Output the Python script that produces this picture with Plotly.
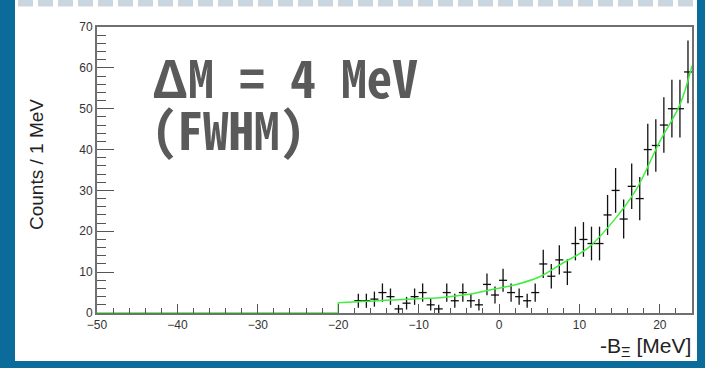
import numpy as np
import plotly.graph_objects as go

# Binned spectrum: bin centres (1 MeV bins) and counts
bin_centers = [-17.5, -16.5, -15.5, -14.5, -13.5, -12.5, -11.5, -10.5, -9.5, -8.5,
               -7.5, -6.5, -5.5, -4.5, -3.5, -2.5, -1.5, -0.5, 0.5, 1.5,
               2.5, 3.5, 4.5, 5.5, 6.5, 7.5, 8.5, 9.5, 10.5, 11.5,
               12.5, 13.5, 14.5, 15.5, 16.5, 17.5, 18.5, 19.5, 20.5, 21.5,
               22.5, 23.5]
counts = [3, 3, 3.4, 5, 4, 1, 2.4, 4, 5, 2,
          1, 5, 3, 5, 3, 2, 7, 4.4, 8, 5,
          4, 3, 5, 12, 9, 13, 10, 17, 18, 17,
          17, 24, 30, 23, 31, 28, 40, 41, 46, 50,
          50, 59]

# Fitted spectrum shape (knots of the fit curve)
fit_x = [-20, -17, -14, -10, -7, -4, -1, 2, 5, 8, 11, 14, 17, 20, 22.5, 24]
fit_y = [2.5, 2.8, 3.1, 3.5, 3.8, 4.5, 5.7, 6.9, 8.8, 12.3, 15.8, 22, 30, 42, 51, 60.5]
threshold_x = [-50, -20, -20]
threshold_y = [0, 0, 2.5]

x_ticks = [-50, -40, -30, -20, -10, 0, 10, 20]
y_ticks = [0, 10, 20, 30, 40, 50, 60, 70]

W_FIG, H_FIG = 705, 368
L, R, T, B = 97, 13, 27, 55
PW, PH = W_FIG - L - R, H_FIG - T - B


def fx(p):
    return (p - L) / PW


def fy(p):
    return (T + PH - p) / PH


errors = np.sqrt(np.array(counts, dtype=float))

fig = go.Figure()

fig.add_trace(go.Scatter(
    x=bin_centers, y=counts, mode="markers",
    marker=dict(size=1, color="black"),
    error_x=dict(type="constant", value=0.5, width=0, thickness=1.3, color="#111"),
    error_y=dict(type="data", array=errors, width=0, thickness=1.3, color="#111"),
    showlegend=False, hoverinfo="skip",
))

green = "#3ff03f"
fig.add_trace(go.Scatter(
    x=threshold_x, y=threshold_y, mode="lines",
    line=dict(color=green, width=1.5), showlegend=False, hoverinfo="skip",
))
fig.add_trace(go.Scatter(
    x=fit_x, y=fit_y, mode="lines",
    line=dict(color=green, width=1.5, shape="spline"), showlegend=False, hoverinfo="skip",
))

tick_font = dict(family="Liberation Sans, Arial, sans-serif", size=12, color="#333")
axis_common = dict(
    showgrid=False, zeroline=False, showline=True, mirror=True,
    linecolor="#707070", linewidth=2, ticks="inside", tickcolor="#555",
    tickwidth=1, tickfont=tick_font,
)
fig.update_xaxes(
    range=[-50, 24], tickvals=x_ticks, ticklen=9,
    minor=dict(dtick=2, ticklen=5, ticks="inside", tickcolor="#555", tickwidth=1),
    **axis_common,
)
fig.update_yaxes(
    range=[0, 70], tickvals=y_ticks, ticklen=17,
    minor=dict(dtick=2, ticklen=9, ticks="inside", tickcolor="#555", tickwidth=1),
    **axis_common,
)

# white slide panel on the blue frame, with a soft dashed strip along its top
fig.add_shape(type="rect", xref="paper", yref="paper",
              x0=fx(15), x1=fx(697), y0=fy(361), y1=fy(-5),
              fillcolor="white", line=dict(width=0), layer="below")
fig.add_shape(type="line", xref="paper", yref="paper",
              x0=fx(18), x1=fx(697), y0=fy(3), y1=fy(3),
              line=dict(color="#c9d6df", width=7, dash="15px,5px"), layer="below")

fig.add_annotation(text="Counts / 1 MeV", xref="paper", yref="paper",
                   x=fx(36), y=fy(165), textangle=-90, showarrow=False,
                   xanchor="center", yanchor="middle",
                   font=dict(family="Liberation Sans, Arial, sans-serif", size=19, color="#222"))
fig.add_annotation(text="-B<sub>Ξ</sub> [MeV]", xref="paper", yref="paper",
                   x=fx(693), y=fy(347), showarrow=False,
                   xanchor="right", yanchor="middle",
                   font=dict(family="Liberation Sans, Arial, sans-serif", size=21, color="#222"))

big_font = dict(family="Noto Sans Mono CJK JP, Noto Sans CJK JP, DejaVu Sans Mono",
                size=51, color="#5a5a5a", weight="bold")
fig.add_annotation(text="ΔM = 4 MeV", xref="paper", yref="paper",
                   x=fx(150), y=fy(76), showarrow=False,
                   xanchor="left", yanchor="middle", font=big_font)
fig.add_annotation(text="(FWHM)", xref="paper", yref="paper",
                   x=fx(150), y=fy(128), showarrow=False,
                   xanchor="left", yanchor="middle", font=big_font)

fig.update_layout(
    width=W_FIG, height=H_FIG,
    margin=dict(l=L, r=R, t=T, b=B, pad=0),
    paper_bgcolor="#0b6c9c", plot_bgcolor="white",
)

fig.write_html("out.html")
